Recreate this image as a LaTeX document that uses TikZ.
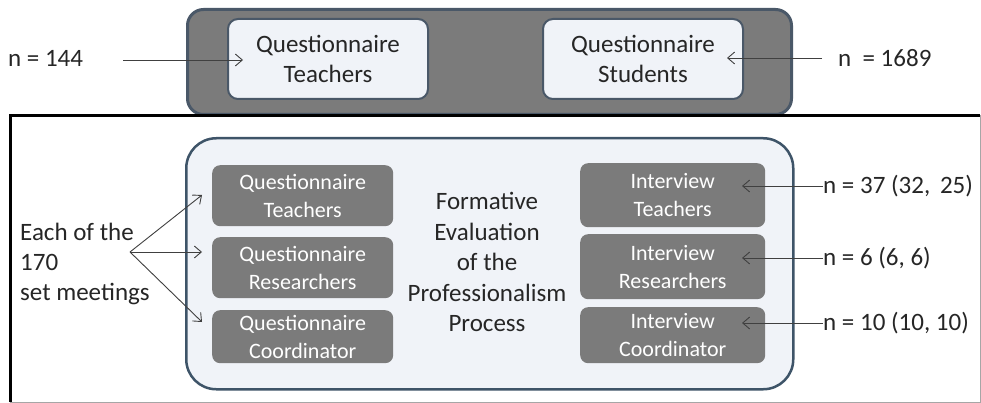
\documentclass[tikz,border=0pt]{standalone}
\usepackage{fontspec}
\setmainfont{Carlito}
\usetikzlibrary{arrows.meta}
\definecolor{darkfill}{HTML}{7B7B7B}
\definecolor{boxedge}{HTML}{4A5868}
\definecolor{lightfill}{HTML}{F0F3F8}
\definecolor{bigedge}{HTML}{3E5468}
\definecolor{arrowc}{HTML}{404040}
\tikzset{
  outerbox/.style={draw=boxedge, line width=3pt, fill=darkfill, rounded corners=16pt},
  lightbox/.style={draw=boxedge, line width=2pt, fill=lightfill, rounded corners=10pt, align=center,
     font=\fontsize{25}{30}\selectfont, text=black!85},
  graybox/.style={fill=darkfill, rounded corners=8pt, align=center, text=white,
     font=\fontsize{22}{28}\selectfont},
  plain/.style={align=left, font=\fontsize{25}{30}\selectfont, text=black!85, inner sep=0pt},
  conn/.style={draw=arrowc, line width=0.9pt, -{Straight Barb[length=7pt,width=12pt]}},
}
\begin{document}
\begin{tikzpicture}[x=1pt,y=-1pt]
\useasboundingbox (0,0) rectangle (981,403);
% top dark container
\node[outerbox, minimum width=604, minimum height=105, anchor=north west] (top) at (186,8) {};
\node[lightbox, minimum width=200, minimum height=80, anchor=north west, inner sep=0pt] (qt) at (227,18) {Questionnaire\\Teachers};
\node[lightbox, minimum width=200, minimum height=80, anchor=north west, inner sep=0pt] (qs) at (542,18) {Questionnaire\\Students};
\node[plain, anchor=west] (n144) at (8,58) {n = 144};
\node[plain, anchor=west] (n1689) at (838,58) {n \ = 1689};
\coordinate (a1s) at (123,60);
\coordinate (a1e) at (243,60);
\coordinate (a2s) at (822,58);
\coordinate (a2e) at (727,58);
\draw[conn] (a1s) -- (a1e);
\draw[conn] (a2s) -- (a2e);
% lower frame
\fill[white] (10,115) rectangle (980,402);
\draw[gray!70, line width=1pt] (980,115) -- (980,402) -- (10,402);
\draw[black, line width=3pt] (10,402) -- (10,115.5) -- (980,115.5);
% big rounded box
\node[draw=bigedge, line width=2.5pt, fill=lightfill, rounded corners=30pt, minimum width=607, minimum height=251, anchor=north west] (big) at (185,137) {};
% left gray boxes
\node[graybox, minimum width=181, minimum height=61, anchor=north west, inner sep=0pt] (lq1) at (212,165) {Questionnaire\\Teachers};
\node[graybox, minimum width=181, minimum height=61, anchor=north west, inner sep=0pt] (lq2) at (212,237) {Questionnaire\\Researchers};
\node[graybox, minimum width=181, minimum height=53, anchor=north west, inner sep=0pt] (lq3) at (212,310) {Questionnaire\\Coordinator};
% right gray boxes
\node[graybox, minimum width=185, minimum height=64, anchor=north west, inner sep=0pt] (ri1) at (580,163) {Interview\\Teachers};
\node[graybox, minimum width=185, minimum height=65, anchor=north west, inner sep=0pt] (ri2) at (580,234) {Interview\\Researchers};
\node[graybox, minimum width=185, minimum height=56, anchor=north west, inner sep=0pt] (ri3) at (580,307) {Interview\\Coordinator};
% center text
\node[align=center, font=\fontsize{25}{30.5}\selectfont, text=black!85, inner sep=0pt] (center) at (487,262) {Formative\\Evaluation\\of the\\Professionalism\\Process};
% left text
\node[plain, anchor=north west] (each) at (20,223) {Each of the\\170\\set meetings};
\coordinate (fork) at (130,252);
\coordinate (t1) at (202,195);
\coordinate (t2) at (202,252);
\coordinate (t3) at (202,322);
\draw[conn] (fork) -- (t1);
\draw[conn] (fork) -- (t2);
\draw[conn] (fork) -- (t3);
% right labels
\node[plain, anchor=west] (n37) at (823,186) {n = 37 (32, \,25)};
\node[plain, anchor=west] (n6) at (823,258) {n = 6 (6, 6)};
\node[plain, anchor=west] (n10) at (823,323) {n = 10 (10, 10)};
\coordinate (r1) at (742,186);
\coordinate (r2) at (742,258);
\coordinate (r3) at (742,323);
\draw[conn] (n37.west) -- (r1);
\draw[conn] (n6.west) -- (r2);
\draw[conn] (n10.west) -- (r3);
\end{tikzpicture}
\end{document}
